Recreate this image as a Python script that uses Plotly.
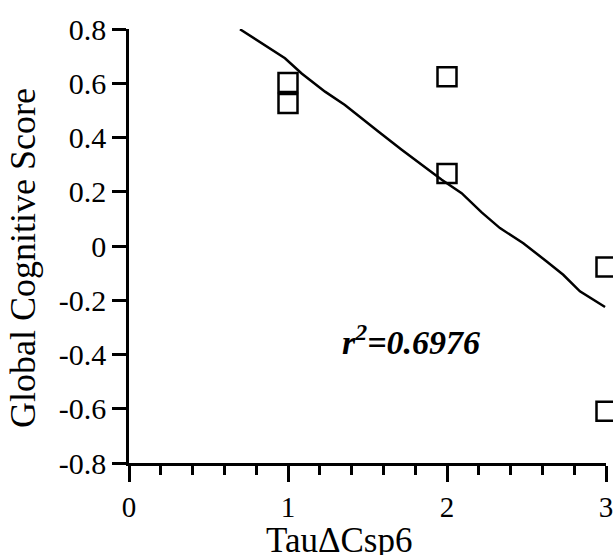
import plotly.graph_objects as go

# Data points (open squares)
point_x = [1, 1, 2, 2, 3, 3]
point_y = [0.603, 0.525, 0.624, 0.267, -0.077, -0.609]

# Fitted curve
fit_x = [0.698, 0.855, 0.981, 1.086, 1.233, 1.358, 1.474, 1.568, 1.715, 1.841,
         1.967, 2.092, 2.218, 2.333, 2.480, 2.627, 2.731, 2.836, 2.994]
fit_y = [0.799, 0.741, 0.692, 0.636, 0.569, 0.520, 0.465, 0.422, 0.355, 0.299,
         0.244, 0.195, 0.124, 0.066, 0.010, -0.057, -0.106, -0.167, -0.225]

x_ticks = [0, 1, 2, 3]
y_ticks = [-0.8, -0.6, -0.4, -0.2, 0, 0.2, 0.4, 0.6, 0.8]
y_ticklabels = ["-0.8", "-0.6", "-0.4", "-0.2", "0", "0.2", "0.4", "0.6", "0.8"]

r2_text = "<b><i>r<sup>2</sup>=0.6976</i></b>"
x_title = "TauΔCsp6"
y_title = "Global Cognitive Score"

FONT = "Liberation Serif"
W, H = 613, 555
L, R, T, B = 129, 7, 29, 92

fig = go.Figure()
fig.add_trace(go.Scatter(
    x=fit_x, y=fit_y, mode="lines",
    line=dict(color="black", width=2.5),
    hoverinfo="skip", cliponaxis=False,
))
fig.add_trace(go.Scatter(
    x=point_x, y=point_y, mode="markers",
    marker=dict(symbol="square-open", size=19, color="black",
                line=dict(color="black", width=2.5)),
    cliponaxis=False,
))

fig.update_layout(
    width=W, height=H,
    margin=dict(l=L, r=R, t=T, b=B, autoexpand=False),
    paper_bgcolor="white", plot_bgcolor="white",
    showlegend=False,
    font=dict(family=FONT, color="black", size=28),
)
fig.update_xaxes(
    range=[0, 3], tickvals=x_ticks, ticktext=[str(v) for v in x_ticks],
    showgrid=False, zeroline=False, automargin=False,
    showline=True, linecolor="black", linewidth=2.5,
    ticks="outside", ticklen=16, tickwidth=2.5, tickcolor="black",
    tickfont=dict(family=FONT, size=29, color="black"),
    ticklabeloverflow="allow",
    minor=dict(dtick=0.2, ticks="outside", ticklen=9, tickwidth=2.5, tickcolor="black", showgrid=False),
)
fig.update_yaxes(
    range=[-0.8, 0.8], tickvals=y_ticks, ticktext=y_ticklabels,
    showgrid=False, zeroline=False, automargin=False,
    showline=True, linecolor="black", linewidth=2.5,
    ticks="outside", ticklen=14, tickwidth=2.5, tickcolor="black",
    tickfont=dict(family=FONT, size=30, color="black"),
    ticklabeloverflow="allow",
)

fig.add_annotation(
    text=r2_text, xref="x", yref="paper",
    x=(411 - L) / (W - L - R) * 3, y=1 - (340 - T) / (H - T - B),
    showarrow=False, font=dict(family=FONT, size=34, color="black"),
    xanchor="center", yanchor="middle",
)
fig.add_annotation(
    text=x_title, xref="paper", yref="paper",
    x=(339 - L) / (W - L - R), y=-(540 - (H - B)) / (H - T - B),
    showarrow=False, font=dict(family=FONT, size=35, color="black"),
    xanchor="center", yanchor="middle",
)
fig.add_annotation(
    text=y_title, xref="paper", yref="paper",
    x=(23 - L) / (W - L - R), y=1 - (258 - T) / (H - T - B),
    showarrow=False, textangle=-90,
    font=dict(family=FONT, size=36, color="black"),
    xanchor="center", yanchor="middle",
)

fig.write_html("out.html", config={"displayModeBar": False},
               post_script="document.body.style.margin='0px';")
